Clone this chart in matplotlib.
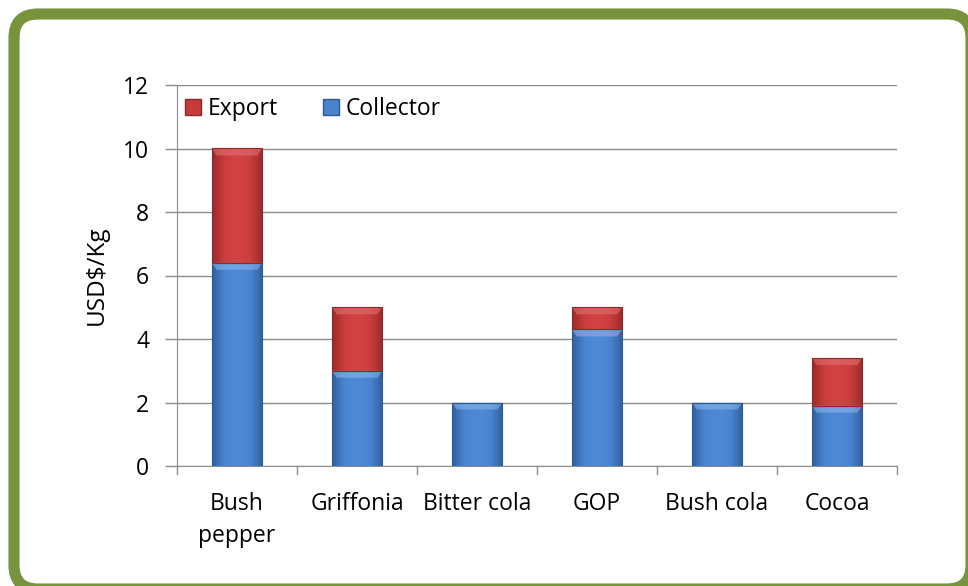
import numpy as np
import matplotlib
matplotlib.use("Agg")
import matplotlib.pyplot as plt
from matplotlib.patches import FancyBboxPatch, Rectangle, Patch
from matplotlib.colors import LinearSegmentedColormap

plt.rcParams['font.family'] = ['Open Sans', 'DejaVu Sans']

categories = ["Bush\npepper", "Griffonia", "Bitter cola", "GOP", "Bush cola", "Cocoa"]
collector = [6.4, 3.0, 2.0, 4.3, 2.0, 1.9]
export = [3.6, 2.0, 0.0, 0.7, 0.0, 1.5]
y_ticks = [0, 2, 4, 6, 8, 10, 12]

W, H = 968, 586
FS = 16.5
fig = plt.figure(figsize=(W / 100, H / 100), dpi=100)
fig.patch.set_facecolor("white")

# background layer in pixel units for the rounded green frame
bg = fig.add_axes([0, 0, 1, 1], zorder=-1)
bg.set_xlim(0, W)
bg.set_ylim(H, 0)
bg.axis("off")
frame = FancyBboxPatch((14, 14), 971 - 14, 589 - 14,
                       boxstyle="round,pad=0,rounding_size=24",
                       facecolor="white", edgecolor="#77933C",
                       linewidth=8.0, clip_on=False)
bg.add_patch(frame)

ax = fig.add_axes([177 / W, (H - 466) / H, (897 - 177) / W, (466 - 85) / H])
ax.patch.set_alpha(0)
ax.set_ylim(0, 12)
ax.set_xlim(-0.5, len(categories) - 0.5)
ax.set_yticks(y_ticks)
ax.set_yticklabels([str(t) for t in y_ticks], fontsize=FS)
ax.yaxis.grid(True, color="#8c8c8c", linewidth=1.0, zorder=0)
ax.set_axisbelow(True)
for s in ["top", "right"]:
    ax.spines[s].set_visible(False)
ax.spines["left"].set_color("#8c8c8c")
ax.spines["bottom"].set_color("#8c8c8c")
ax.tick_params(axis="y", length=9, color="#8c8c8c", width=1, pad=11)
ax.tick_params(axis="x", length=0, pad=19, labelsize=FS)

x = np.arange(len(categories))
ax.set_xticks(x)
ax.set_xticklabels(categories, linespacing=1.42)
# ticks between categories
for b in np.arange(-0.5, len(categories) + 0.5, 1.0):
    ax.plot([b, b], [0, -0.26], color="#8c8c8c", lw=1, clip_on=False)

ax.set_ylabel("USD$/Kg", fontsize=17.5, labelpad=10)

width = 0.42
blue_cmap = LinearSegmentedColormap.from_list(
    "b", ["#2f5f9c", "#4a85d1", "#4f8ad6", "#4a85d1", "#2f5f9c"])
red_cmap = LinearSegmentedColormap.from_list(
    "r", ["#9a2a2a", "#cc3d3d", "#d24444", "#cc3d3d", "#9a2a2a"])
grad = np.linspace(0, 1, 256).reshape(1, -1)


def shaded_bar(xc, bottom, height, cmap, edge, bevel):
    if height <= 0:
        return
    x0, x1 = xc - width / 2, xc + width / 2
    rect = Rectangle((x0, bottom), width, height, facecolor="none",
                     edgecolor=edge, linewidth=0.8, zorder=4)
    ax.add_patch(rect)
    im = ax.imshow(grad, cmap=cmap, aspect="auto",
                   extent=[x0, x1, bottom, bottom + height], zorder=3)
    im.set_clip_path(rect)
    # light bevel along the top edge of the segment
    bh = min(0.22, height * 0.5)
    ax.fill([x0, x1, x1 - 0.04, x0 + 0.04],
            [bottom + height, bottom + height, bottom + height - bh, bottom + height - bh],
            color=bevel, alpha=0.55, lw=0, zorder=3.5)


for i in x:
    shaded_bar(i, 0, collector[i], blue_cmap, "#2c5a93", "#8fb8ee")
    shaded_bar(i, collector[i], export[i], red_cmap, "#8e2727", "#e67474")

ax.set_xlim(-0.5, len(categories) - 0.5)
ax.set_ylim(0, 12)

handles = [Patch(facecolor="#c63a3a", edgecolor="#8e2727", label="Export"),
           Patch(facecolor="#4a82cc", edgecolor="#2c5a93", label="Collector")]
fig.legend(handles=handles, loc="center left",
           bbox_to_anchor=(185 / W, 1 - 109 / H),
           ncol=2, frameon=False, fontsize=FS, handlelength=0.7,
           handleheight=0.7, handletextpad=0.28, columnspacing=2.0,
           borderaxespad=0, borderpad=0)

fig.savefig("out.png", dpi=100, facecolor="white")
